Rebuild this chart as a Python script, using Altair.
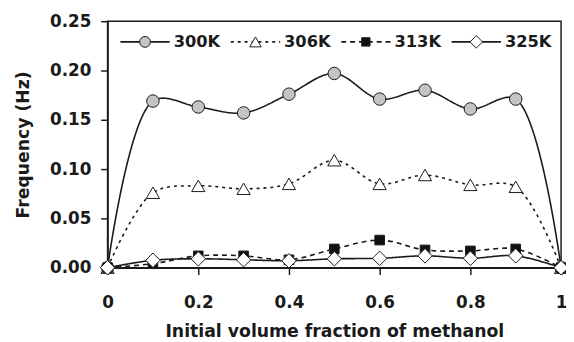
import altair as alt
import pandas as pd

# ---- data ----
x_vals = [0, 0.1, 0.2, 0.3, 0.4, 0.5, 0.6, 0.7, 0.8, 0.9, 1.0]
series_names = ["300K", "306K", "313K", "325K"]
f300 = [0, 0.169, 0.163, 0.157, 0.176, 0.197, 0.171, 0.180, 0.161, 0.171, 0]
f306 = [0, 0.076, 0.083, 0.080, 0.085, 0.109, 0.085, 0.094, 0.084, 0.082, 0]
f313 = [0, 0.004, 0.012, 0.012, 0.008, 0.019, 0.028, 0.018, 0.017, 0.019, 0]
f325 = [0, 0.0075, 0.009, 0.008, 0.007, 0.009, 0.0095, 0.012, 0.0095, 0.012, 0]
series_values = [f300, f306, f313, f325]

x_ticks = [0, 0.2, 0.4, 0.6, 0.8, 1.0]
y_ticks = [0, 0.05, 0.10, 0.15, 0.20, 0.25]

# ---- styles ----
FONT = "DejaVu Sans"
INK = "#1a1a1a"
styles = {
    "300K": dict(shape="circle", fill="#c4c4c4", dash=[1, 0], size=160),
    "306K": dict(shape="triangle-up", fill="white", dash=[3, 4], size=180),
    "313K": dict(shape="square", fill="#111111", dash=[5, 4], size=95),
    "325K": dict(shape="diamond", fill="white", dash=[1, 0], size=215),
}

W, H = 460, 250

xscale = alt.Scale(domain=[0, 1], nice=False, zero=False)
yscale = alt.Scale(domain=[0, 0.25], nice=False)

xaxis = alt.Axis(values=x_ticks, format=".1~f", title="Initial volume fraction of methanol",
                 labelPadding=20, titlePadding=13, labelFlush=False)
yaxis = alt.Axis(values=y_ticks, format=".2f", title="Frequency (Hz)",
                 labelPadding=10, titlePadding=17)

layers = []
for i, name in enumerate(series_names):
    st = styles[name]
    df = pd.DataFrame({"x": x_vals, "f": series_values[i]})
    base = alt.Chart(df)
    enc = dict(
        x=alt.X("x:Q", scale=xscale, axis=xaxis),
        y=alt.Y("f:Q", scale=yscale, axis=yaxis),
    )
    line = base.mark_line(interpolate="catmull-rom", color=INK, strokeWidth=1.6,
                          strokeDash=st["dash"]).encode(**enc)
    pts = base.mark_point(shape=st["shape"], filled=True, fill=st["fill"], stroke=INK,
                          strokeWidth=1, size=st["size"], opacity=1).encode(**enc)
    layers += [line, pts]

# ---- legend drawn inside the plot, Excel style (line + marker + label) ----
one = alt.Data(values=[{}])
LY = 21
for i, name in enumerate(series_names):
    st = styles[name]
    tx = 67 + 112 * i
    seg = alt.Chart(one).mark_rule(color=INK, strokeWidth=1.6, strokeDash=st["dash"]).encode(
        x=alt.value(tx - 54), x2=alt.value(tx - 4), y=alt.value(LY))
    mk = alt.Chart(one).mark_point(shape=st["shape"], filled=True, fill=st["fill"], stroke=INK,
                                   strokeWidth=1, size=st["size"] * 0.75, opacity=1).encode(
        x=alt.value(tx - 29), y=alt.value(LY))
    txt = alt.Chart(one).mark_text(align="left", baseline="middle", font=FONT, fontWeight="bold",
                                   fontSize=16.5, color=INK).encode(
        x=alt.value(tx), y=alt.value(LY), text=alt.value(name))
    layers += [seg, mk, txt]

chart = alt.layer(*layers).properties(
    width=W, height=H,
    autosize=alt.AutoSizeParams(type="none"),
    padding={"left": 101, "top": 11, "right": 5, "bottom": 73},
).configure_view(
    stroke=INK, strokeWidth=1.5
).configure_axis(
    grid=False,
    domainColor=INK, domainWidth=1.5,
    tickColor=INK, tickWidth=1.5, tickSize=7,
    labelFont=FONT, labelFontWeight="bold", labelFontSize=17, labelColor=INK,
    titleFont=FONT, titleFontWeight="bold", titleFontSize=17.5, titleColor=INK,
)

chart.save("out.html", embed_options={"renderer": "svg", "actions": False})
